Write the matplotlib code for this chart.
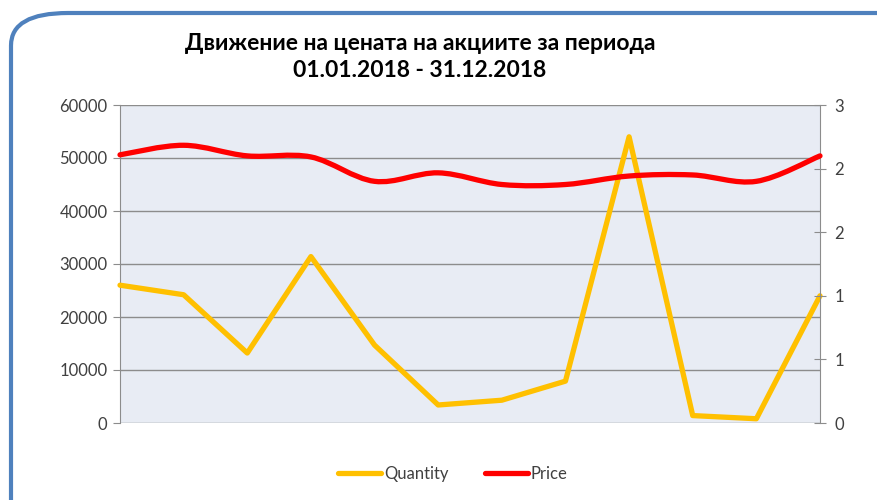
import matplotlib
matplotlib.use("Agg")
import matplotlib.pyplot as plt
from matplotlib.patches import FancyBboxPatch, PathPatch
from matplotlib.path import Path
from matplotlib.lines import Line2D
from matplotlib.ticker import FuncFormatter

# monthly data, 2018
months = list(range(12))
quantity = [26000, 24200, 13200, 31400, 14700, 3400, 4300, 7900, 54000, 1400, 800, 24000]
price = [2.53, 2.62, 2.52, 2.51, 2.28, 2.36, 2.25, 2.25, 2.33, 2.34, 2.28, 2.52]

title = "Движение на цената на акциите за периода\n01.01.2018 - 31.12.2018"
qty_ticks = [0, 10000, 20000, 30000, 40000, 50000, 60000]
price_ticks = [0, 0.6, 1.2, 1.8, 2.4, 3.0]

yellow = "#FFC000"
red = "#FF0000"
grid_col = "#8C8C8C"
text_col = "#404040"

plt.rcParams["font.family"] = ["Lato", "DejaVu Sans"]


def smooth_path(xs, ys):
    """Excel-like smoothed line as a cubic bezier path."""
    n = len(xs)
    verts = [(xs[0], ys[0])]
    codes = [Path.MOVETO]
    for i in range(n - 1):
        x0, y0 = (xs[i - 1], ys[i - 1]) if i > 0 else (xs[i], ys[i])
        x1, y1 = xs[i], ys[i]
        x2, y2 = xs[i + 1], ys[i + 1]
        x3, y3 = (xs[i + 2], ys[i + 2]) if i + 2 < n else (x2, y2)
        c1 = (x1 + (x2 - x0) / 6, y1 + (y2 - y0) / 6)
        c2 = (x2 - (x3 - x1) / 6, y2 - (y3 - y1) / 6)
        verts += [c1, c2, (x2, y2)]
        codes += [Path.CURVE4] * 3
    return Path(verts, codes)


fig = plt.figure(figsize=(8.78, 5.0), dpi=100)

# rounded blue frame
frame = FancyBboxPatch((11 / 878, -0.1), 1.2, 1.1 - 13 / 500,
                       boxstyle="round,pad=0,rounding_size=0.065",
                       transform=fig.transFigure, facecolor="white",
                       edgecolor="#4F81BD", linewidth=3, zorder=-5)
fig.patches.append(frame)

ax = fig.add_axes([120 / 878, 1 - 423 / 500, 700 / 878, 318 / 500])
ax.set_facecolor("#E8ECF4")
ax.set_xlim(0, 11)
ax.set_ylim(0, 60000)
ax.set_yticks(qty_ticks)
ax.set_xticks([])
ax.grid(axis="y", color=grid_col, linewidth=1)
ax.set_axisbelow(True)
for s in ["top", "bottom"]:
    ax.spines[s].set_visible(False)
ax.spines["left"].set_color(grid_col)
ax.spines["right"].set_visible(False)
ax.tick_params(axis="y", colors=grid_col, labelcolor=text_col, labelsize=12,
               length=5, direction="out", pad=4)

ax.plot(months, quantity, color=yellow, linewidth=3.8, solid_capstyle="round",
        solid_joinstyle="round", zorder=3, clip_on=False)

ax2 = ax.twinx()
ax2.set_ylim(0, 3)
ax2.set_yticks(price_ticks)
ax2.yaxis.set_major_formatter(FuncFormatter(lambda v, p: f"{v:.0f}"))
for s in ["top", "bottom", "left"]:
    ax2.spines[s].set_visible(False)
ax2.spines["right"].set_color(grid_col)
ax2.tick_params(axis="y", colors=grid_col, labelcolor=text_col, labelsize=12,
                length=9, direction="inout", pad=6)
ax2.add_patch(PathPatch(smooth_path(months, price), facecolor="none",
                        edgecolor=red, linewidth=3.8, capstyle="round",
                        zorder=4, clip_on=False))

fig.text(420 / 878, 1 - 57 / 500, title, ha="center", va="center",
         fontsize=16.5, fontweight="bold", color="black", linespacing=1.4)

handles = [Line2D([], [], color=yellow, linewidth=3.8, solid_capstyle="round"),
           Line2D([], [], color=red, linewidth=3.8, solid_capstyle="round")]
fig.legend(handles, ["Quantity", "Price"], loc="center",
           bbox_to_anchor=(453 / 878, 1 - 474 / 500), ncol=2, frameon=False,
           fontsize=12, handlelength=2.6, handletextpad=0.15, columnspacing=2.2,
           labelcolor=text_col)

fig.savefig("out.png", dpi=100)
